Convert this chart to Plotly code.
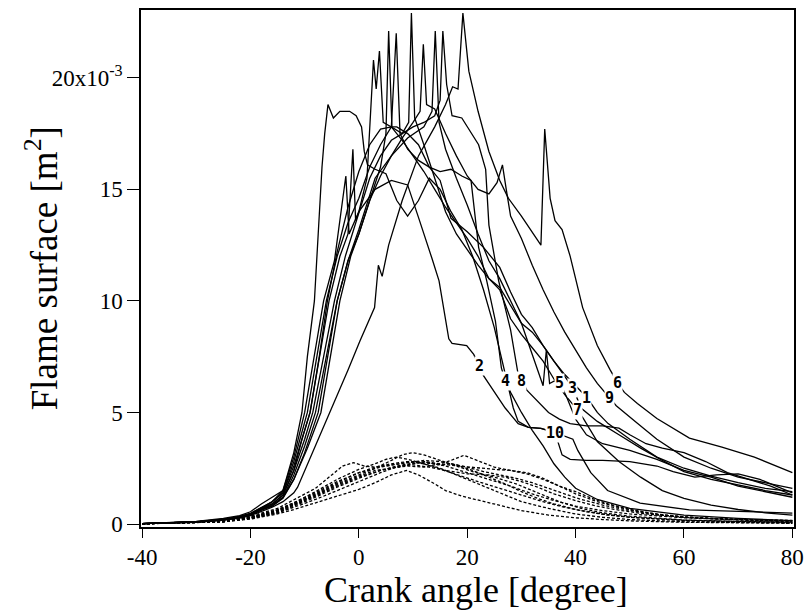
import numpy as np
import plotly.graph_objects as go

# ---- data (flame surface in 1e-3 m^2 vs crank angle in degrees) ----
pre_x = [-40, -35, -30, -25, -22, -20, -18]

c1_x = pre_x + [-16, -14, -12, -10.5, -9, -7, -5.5, -3.5, -2, -1.1, -0.6, 0, 1.5, 2.7, 3.2, 3.8, 4.5, 6, 8, 10, 12, 14, 16, 18, 20, 22, 24, 26, 28, 30, 32, 34, 36, 38, 40, 42.1, 44, 46, 50, 55, 60, 65, 70, 75, 80]
c1_y = [0.02, 0.05, 0.1, 0.2, 0.32, 0.45, 0.7] + [0.9, 1.3, 2.4, 3.8, 5.0, 7.8, 10.0, 12.0, 13.0, 16.8, 13.6, 14.0, 15.5, 20.8, 19.5, 21.2, 18.0, 17.8, 17.2, 16.5, 15.8, 15.0, 14.2, 13.5, 12.8, 12.0, 11.0, 10.6, 9.8, 9.0, 8.6, 8.0, 7.3, 6.7, 6.2, 5.67, 5.0, 4.5, 3.8, 3.0, 2.5, 2.15, 1.85, 1.6, 1.45]

c2_x = pre_x + [-16, -14, -12, -10, -8, -6.5, -4.5, -2.4, -1.8, 0, 3, 6, 9, 10, 11.2, 13.5, 14.8, 16.6, 17.2, 19.9, 21.2, 22.2, 23, 27, 29.4, 31.3, 33.6, 36.2, 38, 39.5, 40.4, 42.8, 45.9, 51.9, 61, 70, 80]
c2_y = [0.02, 0.05, 0.11, 0.22, 0.34, 0.48, 0.75] + [1.0, 1.5, 3.0, 5.0, 7.8, 10.0, 11.8, 15.6, 13.0, 14.0, 15.0, 15.4, 15.2, 14.5, 13.6, 11.9, 10.9, 8.3, 8.1, 8.0, 7.6, 7.1, 6.65, 5.2, 4.5, 4.33, 4.29, 4.1, 3.95, 3.8, 3.3, 2.3, 1.5, 0.94, 0.63, 0.55, 0.49]

c3_x = pre_x + [-16, -14, -12, -10, -8, -6, -4, -2, 0, 2, 4, 5, 5.5, 6.1, 7, 9, 11, 13, 15, 17, 20, 23, 26, 28, 30, 32, 34, 36, 38, 39.5, 41, 44, 48, 52, 56, 60, 65, 70, 75, 80]
c3_y = [0.02, 0.04, 0.09, 0.19, 0.3, 0.42, 0.65] + [0.85, 1.2, 2.2, 3.5, 5.0, 7.5, 10.0, 11.8, 13.0, 14.5, 16.0, 17.5, 22.1, 17.8, 17.8, 17.5, 17.0, 16.0, 15.4, 13.7, 13.1, 12.4, 11.5, 10.4, 9.4, 8.8, 8.0, 7.3, 6.6, 6.1, 5.2, 4.6, 4.0, 3.4, 2.85, 2.35, 2.0, 1.75, 1.5, 1.3]

c4_x = pre_x + [-16, -14, -12, -9.5, -7.8, -6, -4, -2, 0, 2, 4, 6, 6.9, 7.6, 9, 11, 13, 15, 17, 19, 20.7, 22.1, 23.6, 25.2, 26.3, 27, 28, 30, 32, 34, 36, 38, 40, 44, 50, 60, 70, 80]
c4_y = [0.02, 0.05, 0.1, 0.21, 0.33, 0.46, 0.72] + [1.0, 1.4, 2.8, 5.0, 7.5, 10.0, 12.0, 13.5, 14.6, 16.0, 17.0, 17.8, 22.0, 17.5, 16.8, 16.3, 16.0, 15.8, 15.9, 15.6, 15.4, 12.4, 10.9, 9.1, 7.0, 6.43, 5.9, 5.0, 4.2, 3.5, 2.7, 2.1, 1.6, 1.1, 0.7, 0.4, 0.25, 0.15]

c5_x = pre_x + [-16, -14, -12, -10, -7.5, -5.8, -4, -2, 0, 3, 6, 9, 12, 13.5, 14.1, 14.8, 16, 18, 20, 22, 24, 26, 28, 30, 32, 33.5, 34, 34.6, 35.2, 36, 37.1, 38.5, 40, 42, 45, 50, 55, 60, 65, 70, 75, 80]
c5_y = [0.02, 0.04, 0.09, 0.18, 0.29, 0.4, 0.62] + [0.8, 1.2, 2.0, 3.2, 5.0, 7.5, 10.0, 11.8, 13.2, 15.5, 16.5, 17.3, 17.8, 18.5, 22.1, 18.0, 16.8, 15.5, 14.3, 13.0, 11.8, 11.0, 10.0, 9.0, 7.6, 6.5, 6.2, 7.8, 6.3, 6.4, 6.34, 5.6, 4.7, 4.0, 3.6, 3.3, 2.9, 2.4, 2.1, 1.7, 1.45, 1.2]

c6_x = pre_x + [-16, -14, -12, -11.3, -8, -5, -2, 0.2, 2.9, 3.6, 4.3, 5.5, 8, 11, 14, 16, 17.3, 18.3, 19.2, 20.3, 22, 24, 26, 27.6, 30, 33.6, 34.3, 35.3, 36.2, 37.5, 39, 41.3, 44, 46.4, 47.8, 49, 51.4, 55, 61, 67, 73, 80]
c6_y = [0.02, 0.04, 0.08, 0.17, 0.27, 0.38, 0.58] + [0.75, 1.0, 1.4, 1.65, 3.5, 5.2, 6.9, 8.2, 9.7, 11.6, 11.1, 12.5, 14.5, 16.5, 17.8, 18.8, 19.6, 19.5, 22.9, 20.3, 18.5, 16.7, 15.4, 14.6, 13.8, 12.5, 17.7, 14.6, 13.6, 13.2, 12.0, 9.7, 8.0, 6.9, 6.3, 5.9, 5.4, 4.73, 3.85, 3.45, 3.0, 2.3]

c7_x = pre_x + [-16, -14, -12, -9, -7.3, -5.8, -4, -2, 0, 2, 4, 6, 8, 9.2, 9.7, 10.3, 12, 14, 16, 18, 20, 22, 24, 26, 28, 30, 32, 34, 36, 38, 40.4, 41.5, 44, 48, 52, 56, 60, 65, 70, 75, 80]
c7_y = [0.02, 0.05, 0.1, 0.2, 0.31, 0.44, 0.68] + [1.0, 1.4, 2.6, 5.0, 7.5, 10.0, 12.2, 14.2, 15.8, 17.0, 17.7, 17.8, 17.5, 18.0, 22.9, 18.2, 17.0, 15.5, 14.0, 13.0, 12.3, 11.6, 11.0, 10.5, 9.2, 8.5, 7.9, 7.3, 6.5, 5.8, 5.09, 4.7, 3.7, 2.8, 2.1, 1.5, 1.15, 0.85, 0.65, 0.5, 0.4]

c8_x = pre_x + [-16, -14, -12, -10, -8.5, -6.5, -4.5, -2.5, 0, 2, 4, 6, 8, 10, 12, 14, 15, 15.5, 16.2, 17.2, 19, 20.3, 22.1, 23.4, 24, 25.8, 28, 29.4, 30.1, 31, 33, 35, 37, 39, 42, 45, 48, 50, 53, 56, 60, 64, 68, 72, 76, 80]
c8_y = [0.02, 0.05, 0.1, 0.2, 0.31, 0.43, 0.66] + [0.9, 1.3, 2.4, 3.8, 5.0, 7.5, 10.0, 12.0, 14.0, 15.5, 16.5, 17.2, 17.5, 17.8, 18.0, 18.3, 19.0, 22.1, 19.7, 18.3, 18.2, 17.7, 17.0, 15.9, 13.4, 10.9, 8.7, 6.7, 6.43, 6.0, 5.5, 5.0, 4.7, 4.5, 4.4, 4.4, 4.3, 4.0, 3.6, 3.4, 3.2, 2.8, 2.3, 2.0, 1.7, 1.3]

c9_x = pre_x + [-16, -14, -12, -9.5, -7, -5.3, -3.5, -1.5, 0, 2, 4, 6, 8, 10, 11.3, 11.9, 12.5, 14, 16, 18, 20, 22, 24, 25.5, 26.5, 27.2, 28, 30, 32, 34, 36, 38, 40, 42, 44, 46.3, 47.5, 51, 55, 60, 65, 70, 75, 80]
c9_y = [0.02, 0.04, 0.09, 0.19, 0.3, 0.42, 0.64] + [0.8, 1.15, 2.0, 3.4, 5.0, 7.5, 10.0, 12.0, 13.0, 14.5, 15.6, 16.5, 17.3, 18.0, 18.5, 21.5, 18.8, 18.6, 17.5, 16.5, 15.6, 15.0, 14.8, 15.3, 16.1, 15.0, 13.8, 12.8, 11.6, 10.5, 9.5, 8.6, 7.8, 7.0, 6.3, 5.67, 5.3, 4.6, 3.8, 3.0, 2.5, 2.1, 1.85, 1.6]

c10_x = pre_x + [-16, -14, -12, -10.5, -9.5, -8.2, -7.5, -6.8, -6.3, -5.7, -4.7, -3.5, -1.7, -0.5, 0.5, 1, 1.6, 3, 5, 7, 9, 11, 13, 15, 17, 19, 21, 23, 25, 27, 28.5, 29.4, 31.3, 33.6, 36.2, 37.5, 39, 42, 45, 50, 55, 58, 62, 66, 70, 74, 80]
c10_y = [0.02, 0.06, 0.12, 0.25, 0.38, 0.55, 0.9] + [1.2, 1.5, 3.2, 5.0, 7.5, 10.0, 13.0, 16.0, 17.5, 18.8, 18.2, 18.5, 18.5, 18.3, 17.8, 16.7, 16.1, 15.9, 15.7, 14.5, 13.8, 14.5, 15.5, 15.0, 14.0, 13.2, 12.0, 10.5, 8.8, 6.8, 5.2, 4.6, 4.33, 4.29, 4.1, 3.1, 2.9, 2.85, 2.85, 2.8, 2.6, 2.35, 2.1, 2.2, 2.25, 2.0, 1.4]

d1_x = [-40, -30, -25, -20, -15, -12, -8, -5, -3, -1, 1, 3, 6, 9, 12, 15, 18, 22, 26, 30, 35, 40, 45, 50, 60, 70, 80]
d1_y = [0.01, 0.06, 0.15, 0.35, 0.7, 1.1, 1.6, 2.2, 2.6, 2.75, 2.6, 2.55, 2.7, 2.8, 2.7, 2.5, 2.2, 1.8, 1.4, 1.0, 0.7, 0.45, 0.3, 0.2, 0.1, 0.06, 0.04]
d2_x = [-40, -25, -20, -15, -12, -8, -4, 0, 3, 6, 8, 9.9, 12, 15, 18, 21, 25, 29, 33, 37, 41, 45, 50, 55, 60, 70, 80]
d2_y = [0.01, 0.12, 0.3, 0.6, 0.9, 1.3, 1.8, 2.2, 2.5, 2.85, 3.1, 3.2, 3.1, 2.85, 2.6, 2.35, 2.1, 1.8, 1.4, 1.0, 0.7, 0.5, 0.35, 0.25, 0.18, 0.12, 0.08]
d3_x = [-40, -25, -20, -15, -12, -8, -4, 0, 4, 8, 12, 15, 17, 19.4, 22, 25, 28, 31, 34, 37, 40, 44, 48, 52, 56, 60, 65, 70, 80]
d3_y = [0.01, 0.1, 0.25, 0.5, 0.75, 1.1, 1.5, 1.9, 2.3, 2.65, 2.8, 2.7, 2.85, 3.08, 2.85, 2.55, 2.4, 2.3, 2.05, 1.7, 1.35, 1.0, 0.75, 0.55, 0.4, 0.32, 0.25, 0.2, 0.15]
d4_x = [-40, -25, -20, -15, -12, -8, -4, 0, 3, 6, 8.8, 11, 14, 16, 19, 22, 26, 30, 35, 40, 45, 50, 60, 70, 80]
d4_y = [0.01, 0.1, 0.22, 0.45, 0.65, 0.95, 1.25, 1.55, 1.85, 2.2, 2.4, 2.2, 1.8, 1.5, 1.25, 1.07, 0.85, 0.6, 0.4, 0.28, 0.2, 0.14, 0.08, 0.05, 0.03]
d5_x = [-40, -25, -20, -15, -12, -8, -4, 0, 3, 5, 6.9, 9, 12, 15, 18, 22, 26, 30, 34, 38, 42, 46, 50, 60, 70, 80]
d5_y = [0.01, 0.13, 0.3, 0.65, 0.95, 1.45, 2.0, 2.45, 2.7, 2.9, 3.0, 2.9, 2.7, 2.45, 2.2, 1.9, 1.6, 1.3, 1.0, 0.75, 0.55, 0.4, 0.3, 0.17, 0.1, 0.07]
d6_x = [-40, -25, -20, -15, -12, -8, -4, 0, 4, 8, 11, 14, 18, 22, 25, 28, 31, 34, 37, 40, 43, 46, 50, 55, 60, 65, 70, 75, 80]
d6_y = [0.01, 0.11, 0.27, 0.55, 0.85, 1.25, 1.7, 2.1, 2.4, 2.6, 2.75, 2.7, 2.6, 2.5, 2.45, 2.4, 2.25, 2.0, 1.7, 1.45, 1.15, 0.9, 0.65, 0.45, 0.32, 0.24, 0.2, 0.18, 0.16]
d7_x = [-40, -25, -20, -15, -12, -8, -4, 0, 4, 8, 10, 13, 16, 20, 24, 28, 32, 36, 40, 45, 50, 55, 60, 70, 80]
d7_y = [0.01, 0.12, 0.28, 0.6, 0.9, 1.35, 1.85, 2.3, 2.55, 2.7, 2.8, 2.75, 2.6, 2.3, 2.0, 1.7, 1.35, 1.05, 0.8, 0.6, 0.45, 0.35, 0.28, 0.2, 0.14]
d8_x = [-40, -25, -20, -15, -12, -8, -4, 0, 4, 7, 10, 13, 16, 20, 24, 27, 30, 33, 36, 40, 44, 48, 52, 56, 60, 70, 80]
d8_y = [0.01, 0.1, 0.25, 0.5, 0.8, 1.2, 1.65, 2.05, 2.4, 2.6, 2.65, 2.55, 2.4, 2.25, 2.2, 2.1, 1.9, 1.65, 1.35, 1.05, 0.8, 0.62, 0.48, 0.38, 0.3, 0.18, 0.1]
d9_x = [-40, -25, -20, -15, -12, -8, -4, 0, 3, 6, 9, 12, 15, 18, 21, 24, 27, 30, 33, 36, 40, 45, 50, 60, 70, 80]
d9_y = [0.01, 0.12, 0.3, 0.62, 0.95, 1.4, 1.9, 2.3, 2.55, 2.65, 2.75, 2.85, 2.8, 2.65, 2.4, 2.1, 1.8, 1.45, 1.15, 0.9, 0.65, 0.45, 0.3, 0.15, 0.09, 0.06]
d10_x = [-40, -25, -20, -15, -12, -8, -4, 0, 3, 6, 9, 12, 14, 17, 20, 23, 26, 29, 32, 35, 38, 41, 45, 50, 55, 60, 65, 70, 80]
d10_y = [0.01, 0.11, 0.26, 0.55, 0.85, 1.3, 1.75, 2.15, 2.4, 2.5, 2.6, 2.55, 2.65, 2.7, 2.55, 2.35, 2.2, 2.05, 1.85, 1.6, 1.35, 1.1, 0.85, 0.6, 0.42, 0.3, 0.24, 0.2, 0.12]

label_text = ["1", "2", "3", "4", "5", "6", "7", "8", "9", "10"]
label_x = [42.1, 22.2, 39.5, 27.0, 37.1, 47.8, 40.4, 30.1, 46.3, 36.2]
label_y = [5.67, 7.1, 6.1, 6.43, 6.34, 6.3, 5.09, 6.43, 5.67, 4.1]

x_ticks = [-40, -20, 0, 20, 40, 60, 80]
x_ticktext = ["-40", "-20", "0", "20", "40", "60", "80"]
y_ticks = [0, 5, 10, 15, 20]
y_ticktext = ["0", "5", "10", "15", "20x10<sup>-3</sup>"]

SCALE = 1e-3
serif = "Liberation Serif"

solid = [(c1_x, c1_y), (c2_x, c2_y), (c3_x, c3_y), (c4_x, c4_y), (c5_x, c5_y),
         (c6_x, c6_y), (c7_x, c7_y), (c8_x, c8_y), (c9_x, c9_y), (c10_x, c10_y)]
dashed = [(d1_x, d1_y), (d2_x, d2_y), (d3_x, d3_y), (d4_x, d4_y), (d5_x, d5_y),
          (d6_x, d6_y), (d7_x, d7_y), (d8_x, d8_y), (d9_x, d9_y), (d10_x, d10_y)]

fig = go.Figure()
for xs, ys in dashed:
    fig.add_trace(go.Scatter(x=xs, y=np.array(ys) * SCALE, mode="lines",
                             line=dict(color="black", width=1.3, dash="3px,2px"),
                             showlegend=False, hoverinfo="skip"))
for xs, ys in solid:
    fig.add_trace(go.Scatter(x=xs, y=np.array(ys) * SCALE, mode="lines",
                             line=dict(color="black", width=1.3),
                             showlegend=False, hoverinfo="skip"))

for t, lx, ly in zip(label_text, label_x, label_y):
    fig.add_annotation(x=lx, y=ly * SCALE, text="<b>%s</b>" % t, showarrow=False,
                       font=dict(family="DejaVu Sans Mono", size=15, color="black"),
                       bgcolor="white", borderpad=0)

fig.add_annotation(x=0.513, y=-0.122, xref="paper", yref="paper", text="Crank angle [degree]",
                   showarrow=False, xanchor="center", yanchor="middle",
                   font=dict(family=serif, size=36, color="black"))
fig.add_annotation(x=-0.152, y=0.5, xref="paper", yref="paper", text="Flame surface [m<sup>2</sup>]",
                   showarrow=False, xanchor="center", yanchor="middle", textangle=-90,
                   font=dict(family=serif, size=37, color="black"))

fig.update_layout(
    width=812, height=610,
    margin=dict(l=141, r=13, t=8, b=83),
    paper_bgcolor="white", plot_bgcolor="white",
    showlegend=False,
    font=dict(family=serif, size=23, color="black"),
)
fig.update_xaxes(range=[-40.2, 80.3], tickvals=x_ticks, ticktext=x_ticktext, ticks="outside", ticklen=9,
                 tickcolor="black", tickwidth=1, showline=True, linecolor="black", linewidth=1.5,
                 mirror=True, showgrid=False, zeroline=False,
                 tickfont=dict(family=serif, size=23, color="black"))
fig.update_yaxes(range=[-0.134 * SCALE, 23.04 * SCALE], tickvals=[v * SCALE for v in y_ticks],
                 ticktext=y_ticktext, ticks="outside", ticklen=12,
                 tickcolor="black", tickwidth=1, showline=True, linecolor="black", linewidth=1.5,
                 mirror=True, showgrid=False, zeroline=False,
                 tickfont=dict(family=serif, size=23, color="black"))

fig.write_html("out.html")
